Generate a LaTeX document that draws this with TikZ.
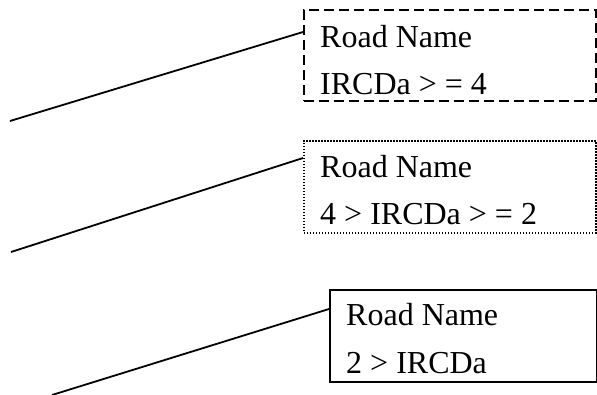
\documentclass[tikz,border=0pt]{standalone}
\usepackage{fontspec}
\setmainfont{Liberation Serif}
\usetikzlibrary{calc}
\begin{document}
\begin{tikzpicture}[x=1pt,y=-1pt,
  boxbase/.style={draw=black, line width=1.7pt, anchor=north west, inner sep=0pt},
  dashbox/.style={boxbase, dash pattern=on 10pt off 5pt},
  dotbox/.style={boxbase, line width=1.6pt, dash pattern=on 1.5pt off 1.5pt},
  solidbox/.style={boxbase},
  lbl/.style={anchor=base west, inner sep=0pt, font=\fontsize{32}{38}\selectfont},
  conn/.style={line width=1.8pt}]
\useasboundingbox (0,0) rectangle (597,394);

% box 1 (dashed)
\node[dashbox, minimum width=292pt, minimum height=91pt] (b1) at (303,9) {};
\node[lbl] (t1a) at (320,47) {Road Name};
\node[lbl] (t1b) at (320,94) {IRCDa > = 4};
\coordinate (s1) at (10,121);
\coordinate (e1) at ($(b1.north west)+(0,23)$);
\draw[conn] (s1) -- (e1);

% box 2 (dotted)
\node[dotbox, minimum width=292pt, minimum height=92pt] (b2) at (303,140) {};
\node[lbl] (t2a) at (320,177) {Road Name};
\node[lbl] (t2b) at (320,224) {4 > IRCDa > = 2};
\coordinate (s2) at (11,252);
\coordinate (e2) at ($(b2.north west)+(0,18)$);
\draw[conn] (s2) -- (e2);

% box 3 (solid)
\node[solidbox, minimum width=267pt, minimum height=92pt] (b3) at (329,289) {};
\node[lbl] (t3a) at (346,325) {Road Name};
\node[lbl] (t3b) at (346,373) {2 > IRCDa};
\coordinate (s3) at (52,395);
\coordinate (e3) at ($(b3.north west)+(0,20)$);
\draw[conn] (s3) -- (e3);
\end{tikzpicture}
\end{document}
